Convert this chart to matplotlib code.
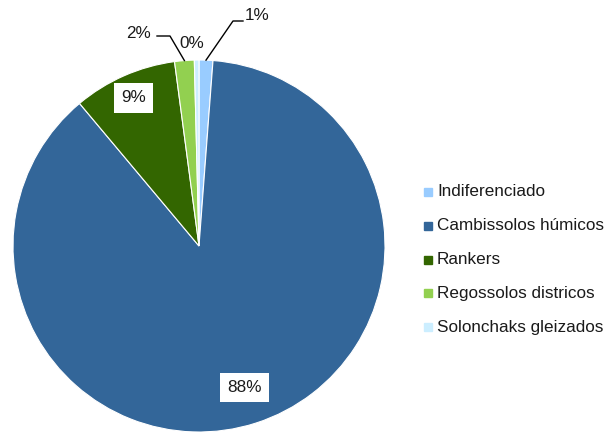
import numpy as np
import matplotlib.pyplot as plt

# Área por tipo de solo (%)
solos = ["Indiferenciado", "Cambissolos húmicos", "Rankers",
         "Regossolos districos", "Solonchaks gleizados"]
areas = [1.2, 87.7, 9.0, 1.7, 0.4]
cores = ["#99ccff", "#336699", "#336600", "#92d050", "#cceeff"]

W, H = 610, 432
cx, cy, r = 199, H - 246, 186

fig = plt.figure(figsize=(W / 100, H / 100), dpi=100)
ax = fig.add_axes([0, 0, 1, 1])

wedges, _ = ax.pie(areas, colors=cores, startangle=90, counterclock=False,
                   center=(cx, cy), radius=r, frame=True,
                   wedgeprops=dict(edgecolor="white", linewidth=0.8))
ax.set_xlim(0, W)
ax.set_ylim(0, H)
ax.set_aspect("equal")
ax.axis("off")

rotulos = [f"{v:.0f}%" for v in areas]


def ponto(w, frac):
    ang = np.deg2rad((w.theta1 + w.theta2) / 2)
    return cx + frac * r * np.cos(ang), cy + frac * r * np.sin(ang)


caixa = dict(boxstyle="square,pad=0.42", fc="white", ec="none")
fonte = dict(fontsize=12.3, family="Liberation Sans", color="#1a1a1a")

# rótulos internos
for i, frac in [(1, 0.8), (2, 0.87)]:
    x, y = ponto(wedges[i], frac)
    ax.text(x, y, rotulos[i], ha="center", va="center", bbox=caixa, **fonte)

# rótulos externos com linhas de chamada
x0, y0 = ponto(wedges[0], 1.0)
ax.plot([x0, 233, 243], [y0, H - 21, H - 21], color="black", lw=1)
ax.text(245, H - 15, rotulos[0], ha="left", va="center", **fonte)

x3, y3 = ponto(wedges[3], 1.0)
ax.plot([x3, 170, 157], [y3, H - 36, H - 36], color="black", lw=1)
ax.text(151, H - 33, rotulos[3], ha="right", va="center", **fonte)

ax.text(192, H - 43, rotulos[4], ha="center", va="center", **fonte)

# legenda
for k, (nome, cor) in enumerate(zip(solos, cores)):
    y = H - (192 + k * 33.8)
    ax.add_patch(plt.Rectangle((424, y - 4), 8, 8, color=cor))
    ax.text(437, y, nome, ha="left", va="center", **fonte)

fig.savefig("out.png", dpi=100)
